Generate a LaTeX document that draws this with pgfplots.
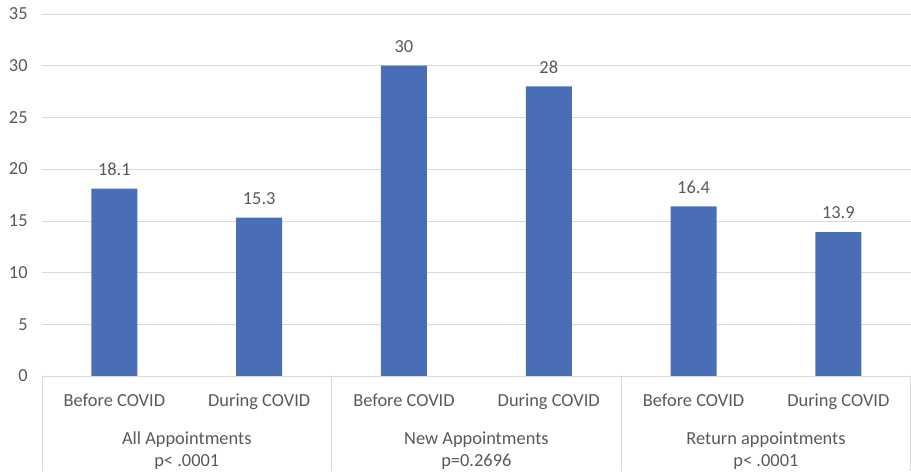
\documentclass[border=0pt]{standalone}
\usepackage{fontspec}
\setmainfont{Carlito}
\usepackage{pgfplots}
\pgfplotsset{compat=1.18}
\definecolor{barblue}{HTML}{4A6EB5}
\definecolor{txt}{HTML}{595959}
\definecolor{gridgray}{HTML}{D9D9D9}
\begin{document}
\begin{tikzpicture}
\fontsize{13.8pt}{16pt}\selectfont
\begin{axis}[
  scale only axis,
  width=651.75pt, height=271.5pt,
  ymin=0, ymax=35, ytick={0,5,...,35},
  xmin=-0.5, xmax=5.5,
  xtick={0,1,2,3,4,5},
  xticklabels={Before COVID,During COVID,Before COVID,During COVID,Before COVID,During COVID},
  ymajorgrids, xmajorgrids=false, grid style={draw=gridgray},
  axis lines*=left,
  y axis line style={draw=none},
  x axis line style={draw=gridgray, -},
  major tick length=0pt,
  tick label style={font=\fontsize{13.8pt}{16pt}\selectfont, text=txt},
  /pgf/number format/assume math mode=true,
  yticklabel style={xshift=-6pt},
  xticklabel style={yshift=-9pt},
  clip=false,
]
\addplot[ybar, bar width=34.5pt, fill=barblue, draw=none,
  nodes near coords, nodes near coords style={text=txt, font=\fontsize{13.8pt}{16pt}\selectfont, yshift=5pt},
  point meta=explicit symbolic]
  coordinates {(0,18.1)[18.1] (1,15.3)[15.3] (2,30)[30] (3,28)[28] (4,16.4)[16.4] (5,13.9)[13.9]};
\draw[gridgray] (axis cs:-0.5,0) -- ++(0pt,-71.25pt);
\draw[gridgray] (axis cs:1.5,0) -- ++(0pt,-71.25pt);
\draw[gridgray] (axis cs:3.5,0) -- ++(0pt,-71.25pt);
\draw[gridgray] (axis cs:5.5,0) -- ++(0pt,-71.25pt);
\node[text=txt, align=center, anchor=north, font=\fontsize{13.8pt}{16.5pt}\selectfont] at ([yshift=-37pt]axis cs:0.5,0) {All Appointments\\p< .0001};
\node[text=txt, align=center, anchor=north, font=\fontsize{13.8pt}{16.5pt}\selectfont] at ([yshift=-37pt]axis cs:2.5,0) {New Appointments\\p=0.2696};
\node[text=txt, align=center, anchor=north, font=\fontsize{13.8pt}{16.5pt}\selectfont] at ([yshift=-37pt]axis cs:4.5,0) {Return appointments\\p< .0001};
\end{axis}
\useasboundingbox (-31.5pt,-71.25pt) rectangle (651.75pt,282pt);
\end{tikzpicture}
\end{document}
